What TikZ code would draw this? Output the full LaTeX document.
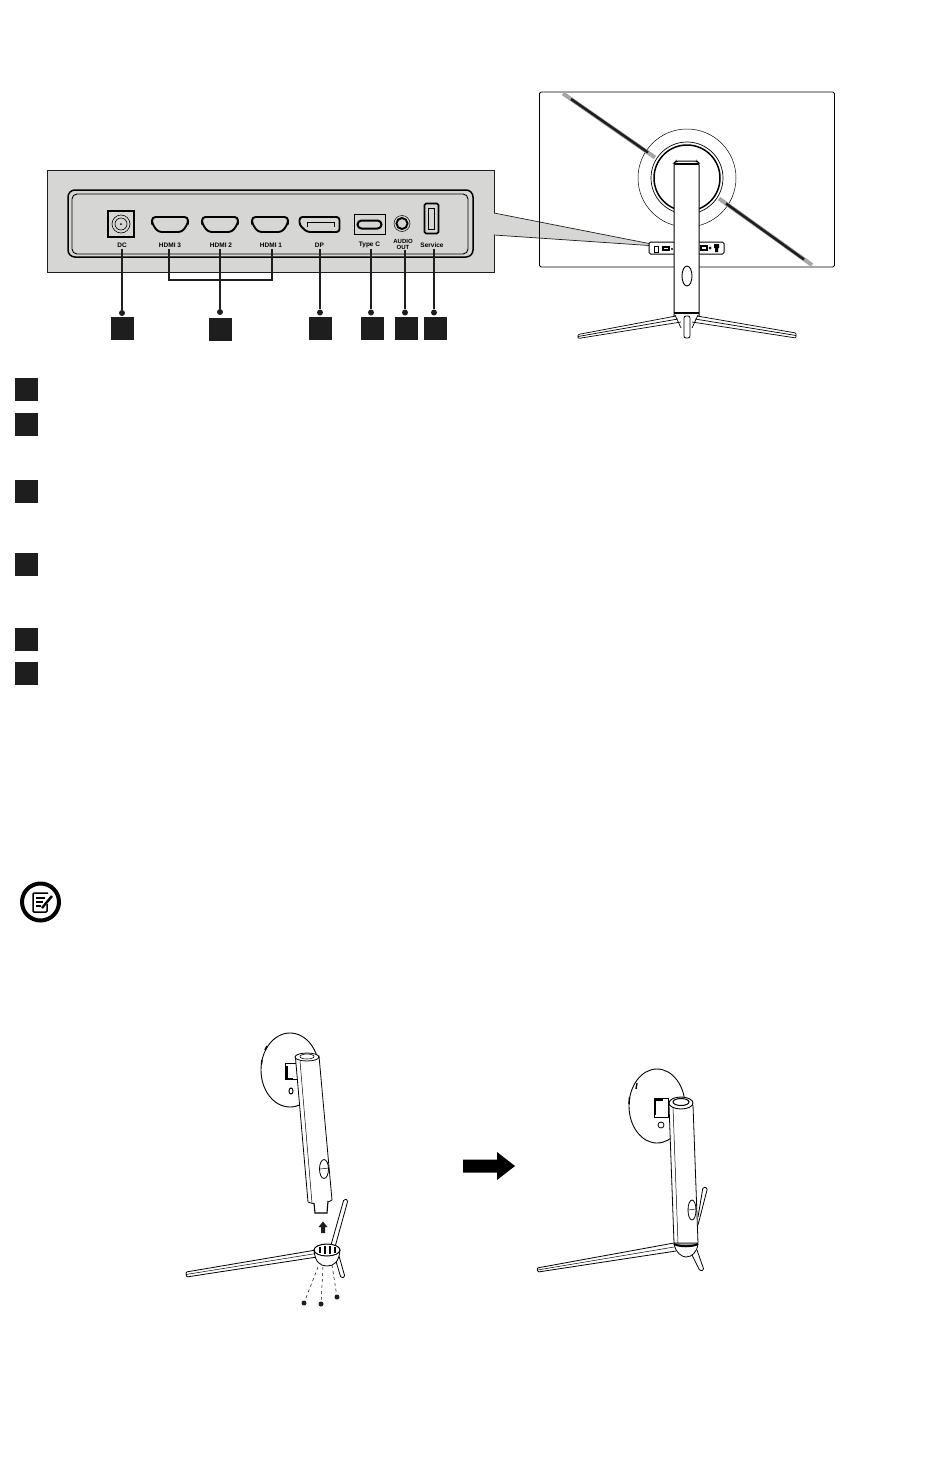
\documentclass[tikz,border=0pt]{standalone}
\usepackage{fontspec}
\setsansfont{Liberation Sans}
\definecolor{panelgray}{HTML}{D6D6D4}
\definecolor{inkdark}{HTML}{1E1E1E}
\tikzset{
  badge/.style={fill=inkdark,minimum size=23,inner sep=0},
  portlabel/.style={font=\sffamily\bfseries\fontsize{6.5}{6}\selectfont,inner sep=0.5,align=center},
  portdot/.style={circle,fill=inkdark,minimum size=6,inner sep=0},
  lead/.style={line width=1.5,draw=inkdark},
  thinline/.style={line width=0.7,draw=inkdark},
  hdmiport/.pic={\draw[line width=1.9,rounded corners=3.5,fill=panelgray] (-18,-7.5) -- (18,-7.5) -- (18,-1) -- (12,7.5) -- (-12,7.5) -- (-18,-1) -- cycle;},
  screw/.style={circle,fill=inkdark,minimum width=5,minimum height=5,inner sep=0}
}
\begin{document}
\begin{tikzpicture}[x=1pt,y=-1pt]
\useasboundingbox[fill=white] (0,0) rectangle (950,1467);

\node[draw=inkdark,fill=panelgray,line width=0.8,minimum width=447,minimum height=102,inner sep=0] (Panel) at (270.5,221){};
\fill[panelgray] (493,213) -- (649,243.5) -- (649,245.5) -- (493,235) -- cycle;
\draw[thinline] (494,213) -- (649,243.5);
\draw[thinline] (494,235) -- (649,245.5);
\draw[line width=1.5,rounded corners=7] (68,190) rectangle (473,257);
\draw[line width=0.9,rounded corners=5] (72,194) rectangle (468,254);

\node[draw,line width=1.3,minimum size=26,inner sep=0] (Dc) at (121,224){};
\draw[line width=0.6] (Dc.center) circle (9) (Dc.center) circle (6);
\fill (Dc.center) circle (1);
\pic at (170,224.5) {hdmiport};
\pic at (220,224.5) {hdmiport};
\pic at (270,224.5) {hdmiport};
\draw[line width=1.9,rounded corners=3] (299.5,217) -- (339.5,217) -- (339.5,232) -- (307,232) -- (299.5,225) -- cycle;
\draw[line width=0.8] (307,227) -- (307,222.5) -- (334,222.5) -- (334,227);
\node[draw,line width=1,minimum width=31,minimum height=20,inner sep=0] (TypeC) at (369.5,224){};
\node[draw,line width=2,rounded corners=4,minimum width=24,minimum height=8,inner sep=0] (TypeCin) at (369.5,224.5){};
\draw[line width=0.5] (402,223.5) circle (8);
\draw[line width=1.9] (402,223.5) circle (5.5);
\node[draw,line width=1.6,rounded corners=1.5,minimum width=14,minimum height=30,inner sep=0] (Usb) at (431.5,218.5){};
\node[draw,line width=1,minimum width=6,minimum height=21,inner sep=0] (UsbIn) at (431.5,219){};

\node[portlabel] (LDc) at (122,245){DC};
\node[portlabel] (LH3) at (170,245){HDMI 3};
\node[portlabel] (LH2) at (221,245){HDMI 2};
\node[portlabel] (LH1) at (271,245){HDMI 1};
\node[portlabel] (LDp) at (319.5,245){DP};
\node[portlabel] (LTc) at (369.5,245){Type C};
\node[portlabel,font=\sffamily\bfseries\fontsize{6}{5.5}\selectfont] (LAu) at (403,244.5){AUDIO\\OUT};
\node[portlabel] (LSv) at (432,245){Service};

\node[portdot] (D1) at (122,313){};
\node[portdot] (D2) at (220,312){};
\node[portdot] (D3) at (320,312.5){};
\node[portdot] (D4) at (371,312.5){};
\node[portdot] (D5) at (405,312.5){};
\node[portdot] (D6) at (434,312.5){};
\node[badge] (B1) at (122.5,328.5){};
\node[badge] (B2) at (220.5,329.5){};
\node[badge] (B3) at (320.5,328.5){};
\node[badge] (B4) at (372.5,328.5){};
\node[badge] (B5) at (406.5,328.5){};
\node[badge] (B6) at (435.5,328.5){};
\draw[lead] (122,249) -- (D1);
\draw[lead] (220,249) -- (D2);
\draw[lead] (320,249) -- (D3);
\draw[lead] (371,249) -- (D4);
\draw[lead] (405,250) -- (D5);
\draw[lead] (434,249) -- (D6);
\draw[lead] (169,249) |- (220,280) -| (272,249);

\node[badge] (K1) at (26.5,389){};
\node[badge] (K2) at (26.5,424.5){};
\node[badge] (K3) at (26.5,491.5){};
\node[badge] (K4) at (26.5,564.5){};
\node[badge] (K5) at (26.5,639.5){};
\node[badge] (K6) at (26.5,673.5){};

\draw[line width=0.9,rounded corners=1.5] (539.5,92) rectangle (834.5,267);
\draw[line width=0.5] (687,178) circle (49);
\draw[line width=0.7] (687,178) circle (36);
\draw[line width=1.5] (687,178) circle (33);
\draw[line width=4,gray!70] (563,93.5) -- (655,157.5);
\draw[line width=4,gray!70] (719,198.5) -- (812,265);
\draw[line width=2.5,inkdark] (571,99) -- (648,152.5);
\draw[line width=2.5,inkdark] (726,203.5) -- (804,259.5);
\node[draw,fill=white,line width=1,rounded corners=1.5,minimum width=75,minimum height=12,inner sep=0] (Strip) at (686.5,248){};
\draw[line width=1] (654,246) rectangle (658,252);
\draw[line width=1.2] (663,247) rectangle (669,250);
\fill (672,249) circle (1.2);
\draw[line width=1.2] (701,246) rectangle (707,250);
\fill (710,248) circle (1.5);
\fill (714,244) rectangle (719,248) (715,248) rectangle (718,252);
\draw[fill=white,line width=1,rounded corners=2] (674,316) -- (674,163) -- (676,161) -- (697,161) -- (699,163) -- (699,316);
\draw[line width=2.2] (674.5,164) -- (698.5,164);
\draw[line width=2.5] (674,313) -- (699,313);
\draw[line width=0.9] (687,276) circle [x radius=5,y radius=10];
\draw[line width=0.7,fill=white,rounded corners=1] (676,316) -- (578,334.5) -- (578,338.5) -- (681,322);
\draw[line width=0.7] (578,336.5) -- (678,319);
\draw[line width=0.7,fill=white,rounded corners=1] (697,316) -- (796,333) -- (796,338) -- (692,322);
\draw[line width=0.7] (796,335.5) -- (695,319);
\draw[line width=0.7] (675,315) -- (681,328) (698,315) -- (692,328);
\draw[line width=0.8,fill=white,rounded corners=2] (684,316) -- (684,338) -- (690,338) -- (690,316) -- cycle;

\node[draw,circle,line width=4,minimum size=37,inner sep=0] (Note) at (40.5,902){};
\draw[line width=1.5,rounded corners=1] (48,893) -- (33,893) -- (33,912) -- (47,912) -- (47,904);
\draw[line width=1.3] (36,898) -- (45,898) (36,902) -- (43,902) (36,906) -- (41,906);
\draw[line width=2.4] (42,908) -- (52,896);

\draw[line width=0.9] (290,1070) circle [x radius=29,y radius=37];
\draw[line width=1.4] (267,1046) -- (265,1050) (262,1060) -- (261.5,1064);
\draw[line width=0.8] (285,1063) rectangle (297,1079);
\draw[line width=1.3] (287,1066) -- (287,1079) -- (293,1079);
\draw[line width=1] (291,1091) circle [x radius=2,y radius=3];
\draw[fill=white,line width=0.8] (295.5,1058) -- (308,1202) .. controls (314,1205) and (326,1204) .. (332,1200) -- (319,1056) -- cycle;
\draw[fill=white,line width=0.8] (307,1057) circle [x radius=12,y radius=4];
\draw[line width=0.6] (307,1056.5) circle [x radius=7,y radius=2.5];
\draw[line width=0.5] (300,1061) -- (312,1203);
\draw[line width=0.8] (324,1169) circle [x radius=4.5,y radius=9.5];
\draw[line width=0.5] (320,1169) -- (329,1168);
\draw[fill=white,line width=1.1] (314,1203) -- (315,1213) -- (327,1213) -- (328,1201);
\draw[line width=0.8,fill=white,rounded corners=1.5] (331,1245) -- (344,1199) -- (348,1200) -- (335,1247);
\draw[line width=0.8,fill=white,rounded corners=1.5] (335,1258) -- (341,1278) -- (345,1277) -- (339,1256);
\draw[line width=0.8,fill=white,rounded corners=1] (316,1250) -- (186,1272) -- (186.5,1277) -- (317,1257);
\draw[line width=0.5] (186,1274.5) -- (316,1253.5);
\draw[fill=white,line width=0.8] (314,1250) .. controls (315,1262) and (320,1266) .. (327,1266) .. controls (334,1266) and (339,1262) .. (340,1250) -- cycle;
\draw[fill=white,line width=1] (327,1250) circle [x radius=13,y radius=6];
\draw[line width=1.3] (320,1247) -- (320,1253) (325,1246) -- (325,1254) (330,1246) -- (330,1254) (335,1247) -- (335,1253);
\node[screw] (S1) at (304,1303){};
\node[screw] (S2) at (321,1304){};
\node[screw] (S3) at (337,1297){};
\coordinate (H1) at (318,1267);
\coordinate (H2) at (323,1267);
\coordinate (H3) at (332,1265);
\draw[dashed,line width=0.5] (H1) -- (S1);
\draw[dashed,line width=0.5] (H2) -- (S2);
\draw[dashed,line width=0.5] (H3) -- (S3);
\fill[inkdark] (321,1233) -- (321,1227) -- (318.5,1227) -- (323,1221.5) -- (327.5,1227) -- (325,1227) -- (325,1233) -- cycle;

\fill[black] (463,1159.5) -- (497,1159.5) -- (497,1152) -- (515,1166) -- (497,1180) -- (497,1172.5) -- (463,1172.5) -- cycle;

\draw[line width=0.9] (657,1106) circle [x radius=28,y radius=37];
\draw[line width=1.4] (637,1083) -- (636,1089) (629.5,1097) -- (629,1104);
\draw[line width=0.8] (654,1098) rectangle (668,1117);
\draw[line width=1.3] (655,1100) -- (663,1100) (655,1100) -- (655,1115);
\draw[line width=0.8] (661,1125) circle (3);
\draw[line width=0.8,fill=white,rounded corners=1.5] (698,1217) -- (703,1187) -- (707.5,1188) -- (698,1225);
\draw[fill=white,line width=0.8] (669,1105) -- (674,1243) -- (698,1243) -- (693,1105) -- cycle;
\draw[line width=0.5] (673,1107) -- (678,1243);
\draw[fill=white,line width=0.9] (681,1103) circle [x radius=12,y radius=6];
\draw[line width=1] (681,1102) circle [x radius=8,y radius=3.5];
\draw[line width=0.8,fill=white] (692,1210) circle [x radius=4,y radius=10];
\draw[line width=0.5] (688,1210) -- (696,1209);
\draw[line width=0.8,fill=white,rounded corners=1.5] (692,1255) -- (700,1271) -- (704,1270) -- (697,1250);
\draw[line width=0.8,fill=white,rounded corners=1] (674,1243) -- (537,1268) -- (538,1272) -- (676,1251);
\draw[line width=0.5] (537.5,1270) -- (674,1247);
\draw[fill=white,line width=0.8] (674,1244) .. controls (676,1253) and (682,1257) .. (686,1257) .. controls (692,1257) and (697,1252) .. (698,1244) -- cycle;
\draw[line width=2] (674,1244) .. controls (680,1247) and (692,1247) .. (698,1244);
\end{tikzpicture}
\end{document}
